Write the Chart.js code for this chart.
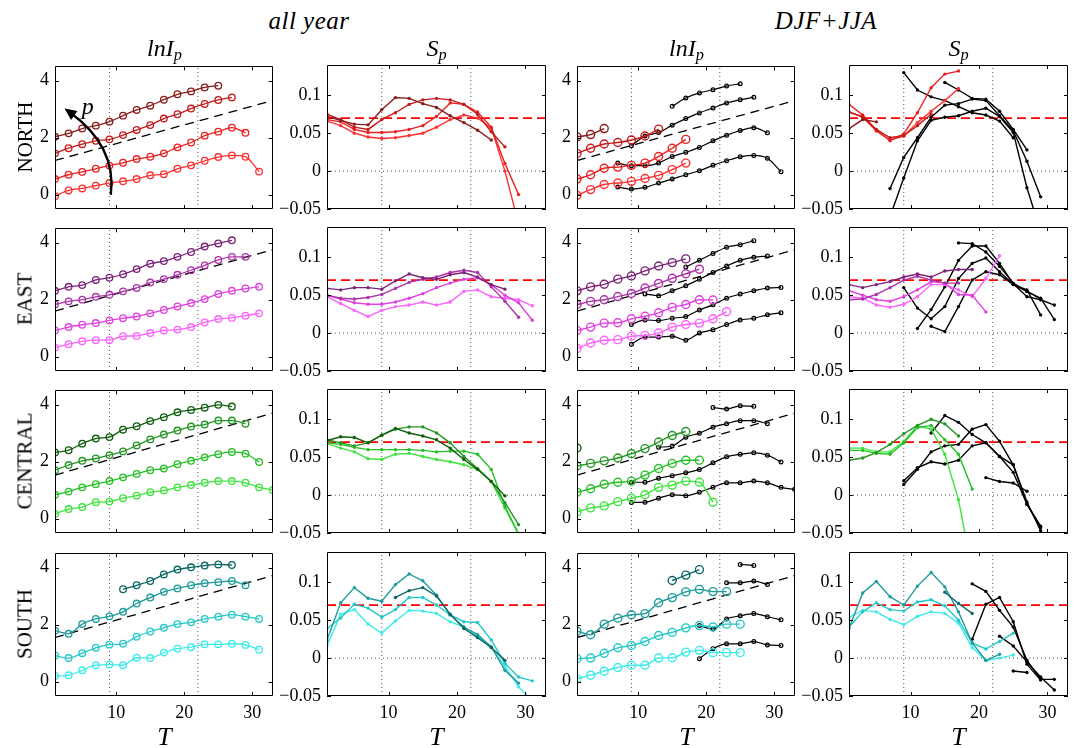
<!DOCTYPE html>
<html>
<head>
<meta charset="utf-8">
<script src="https://cdn.jsdelivr.net/npm/chart.js@4.4.1/dist/chart.umd.min.js"></script>
<style>
  html, body { margin: 0; padding: 0; background: #fff; }
  #fig { position: relative; width: 1076px; height: 748px; overflow: hidden;
         font-family: 'Liberation Serif', 'Times New Roman', serif; color: #000; }
  #fig canvas { position: absolute; }
  .lbl { position: absolute; white-space: nowrap; line-height: 1; }
  .sub { font-size: 68%; vertical-align: -0.25em; }
</style>
</head>
<body>
<div id="fig"></div>
<script>
// temperature bins (T, deg C), every 2 degrees starting at the given T
const dT = 2;
const T0 = 1, T1 = 33;
const xTicks = [10, 20, 30];
const refT = [9, 22];
const lnRange = [-0.5, 4.5], lnTicks = [0, 2, 4];
const spRange = [-0.05, 0.14], spTicks = [-0.05, 0, 0.05, 0.1];
const spRef = 0.07;

const rowNames = ['NORTH', 'EAST', 'CENTRAL', 'SOUTH'];
const nCol = ['#8a1c1c', '#c41a1a', '#ea2020', '#ff3030'];
const eCol = ['#7c2279', '#ac34a8', '#e040e0', '#ff60ff'];
const cCol = ['#0f5f0f', '#249624', '#26c026', '#3ee43e'];
const sCol = ['#0c6666', '#1e9c9c', '#24c8c8', '#3ceaea'];

// series are [first T, values]
// ---- NORTH
const nLnAll = [
  [1, [2.03, 2.15, 2.32, 2.42, 2.56, 2.77, 2.97, 3.12, 3.33, 3.52, 3.62, 3.76, 3.82]],
  [1, [1.45, 1.63, 1.77, 1.89, 1.94, 2.09, 2.27, 2.44, 2.67, 2.82, 3.02, 3.18, 3.32, 3.41]],
  [1, [0.55, 0.70, 0.80, 0.91, 1.02, 1.12, 1.25, 1.33, 1.45, 1.66, 1.83, 2.07, 2.21, 2.35, 2.17]],
  [1, [-0.05, 0.15, 0.22, 0.32, 0.41, 0.47, 0.55, 0.68, 0.72, 0.91, 1.03, 1.19, 1.32, 1.38, 1.33, 0.81]]
];
const nSpAll = [
  [1, [0.072, 0.067, 0.062, 0.061, 0.081, 0.097, 0.096, 0.089, 0.084, 0.073, 0.064, 0.054, 0.041]],
  [1, [0.075, 0.068, 0.058, 0.055, 0.068, 0.077, 0.088, 0.094, 0.096, 0.094, 0.088, 0.075, 0.052, 0.032]],
  [1, [0.068, 0.065, 0.055, 0.051, 0.051, 0.052, 0.055, 0.060, 0.072, 0.090, 0.088, 0.078, 0.058, 0.010, -0.031]],
  [1, [0.066, 0.060, 0.050, 0.045, 0.043, 0.044, 0.047, 0.050, 0.058, 0.068, 0.074, 0.070, 0.057, 0.000, -0.070]]
];
const nLnSea = [
  [1, [2.03, 2.11, 2.32]],
  [1, [1.45, 1.63, 1.78, 1.83, 1.92, 2.06, 2.30]],
  [1, [0.55, 0.70, 0.93, 0.97, 1.03, 1.11, 1.34, 1.63, 1.94]],
  [1, [-0.02, 0.18, 0.36, 0.41, 0.47, 0.57, 0.68, 0.88, 1.11]]
];
const nLnSeaK = [
  [15, [3.10, 3.39, 3.57, 3.68, 3.81, 3.89]],
  [9, [1.72, 2.06, 2.18, 2.44, 2.67, 2.87, 3.04, 3.22, 3.33, 3.42]],
  [7, [1.11, 1.02, 1.02, 1.11, 1.34, 1.49, 1.66, 1.89, 2.09, 2.25, 2.35, 2.17]],
  [7, [0.27, 0.20, 0.26, 0.41, 0.55, 0.70, 0.84, 1.03, 1.19, 1.33, 1.38, 1.28, 0.81]]
];
const nSpSea = [
  [1, [0.056, 0.068, 0.065]],
  [1, [0.078, 0.072, 0.055, 0.044, 0.047, 0.060, 0.075]],
  [1, [0.088, 0.074, 0.054, 0.040, 0.049, 0.077, 0.110, 0.128, 0.132]],
  [1, [0.078, 0.071, 0.053, 0.041, 0.046, 0.064, 0.079, 0.093, 0.109]]
];
const nSpSeaK = [
  [9, [0.130, 0.107, 0.098, 0.093, 0.085, 0.077, 0.074, 0.066, 0.044]],
  [15, [0.117, 0.107, 0.096, 0.095, 0.079, 0.055, 0.028]],
  [7, [-0.023, 0.018, 0.044, 0.071, 0.087, 0.089, 0.095, 0.093, 0.073, 0.053, 0.013, -0.034]],
  [7, [-0.060, -0.009, 0.040, 0.067, 0.071, 0.073, 0.079, 0.083, 0.072, 0.051, -0.022, -0.080]]
];
const nCC = [[1, 1.2], [33, 3.3]];

// ---- EAST
const eLnAll = [
  [1, [2.31, 2.45, 2.51, 2.69, 2.77, 2.89, 3.07, 3.26, 3.35, 3.50, 3.67, 3.86, 3.97, 4.08]],
  [1, [1.83, 1.94, 2.00, 2.10, 2.17, 2.29, 2.41, 2.60, 2.72, 2.87, 3.03, 3.20, 3.39, 3.50, 3.50]],
  [1, [0.92, 1.04, 1.12, 1.18, 1.27, 1.35, 1.41, 1.52, 1.64, 1.76, 1.88, 2.02, 2.20, 2.31, 2.39, 2.45]],
  [1, [0.32, 0.44, 0.54, 0.58, 0.58, 0.72, 0.73, 0.83, 0.92, 0.95, 1.04, 1.20, 1.32, 1.36, 1.44, 1.52]]
];
const eSpAll = [
  [1, [0.059, 0.057, 0.060, 0.060, 0.058, 0.069, 0.078, 0.073, 0.071, 0.077, 0.080, 0.074, 0.064, 0.058]],
  [1, [0.050, 0.046, 0.045, 0.047, 0.051, 0.059, 0.067, 0.071, 0.074, 0.080, 0.083, 0.080, 0.061, 0.042, 0.021]],
  [1, [0.050, 0.045, 0.040, 0.038, 0.038, 0.041, 0.046, 0.052, 0.060, 0.066, 0.071, 0.073, 0.064, 0.050, 0.040, 0.017]],
  [1, [0.048, 0.039, 0.030, 0.022, 0.030, 0.035, 0.037, 0.041, 0.037, 0.041, 0.055, 0.057, 0.048, 0.046, 0.044, 0.036]]
];
const eLnSea = [
  [1, [2.31, 2.45, 2.54, 2.72, 2.83, 3.01, 3.18, 3.30, 3.43]],
  [1, [1.83, 1.94, 2.00, 2.11, 2.22, 2.41, 2.57, 2.75, 2.91, 3.07]],
  [1, [0.92, 1.04, 1.18, 1.19, 1.33, 1.42, 1.54, 1.73, 1.83, 2.00, 1.99]],
  [1, [0.29, 0.48, 0.58, 0.60, 0.72, 0.75, 0.83, 1.04, 1.13, 1.18, 1.33, 1.58]]
];
const eLnSeaK = [
  [17, [3.15, 3.38, 3.62, 3.84, 3.93, 4.07]],
  [11, [2.20, 2.14, 2.31, 2.49, 2.72, 2.95, 3.18, 3.38, 3.49, 3.53]],
  [9, [1.13, 1.29, 1.27, 1.35, 1.41, 1.64, 1.82, 2.05, 2.20, 2.31, 2.41, 2.43]],
  [9, [0.44, 0.69, 0.69, 0.72, 0.58, 0.83, 0.95, 1.13, 1.29, 1.35, 1.47, 1.54]]
];
const eSpSea = [
  [1, [0.064, 0.060, 0.064, 0.068, 0.074, 0.078, 0.074, 0.082, 0.084, 0.084]],
  [1, [0.044, 0.045, 0.051, 0.060, 0.070, 0.075, 0.070, 0.066, 0.066]],
  [1, [0.056, 0.050, 0.044, 0.042, 0.048, 0.057, 0.068, 0.066, 0.051, 0.050, 0.028]],
  [1, [0.048, 0.046, 0.037, 0.034, 0.038, 0.048, 0.064, 0.064, 0.057, 0.048, 0.072, 0.102]]
];
const eSpSeaK = [
  [9, [0.060, 0.033, 0.019, 0.035, 0.072, 0.092, 0.099, 0.081, 0.064, 0.057, 0.024]],
  [11, [0.006, 0.031, 0.061, 0.096, 0.115, 0.115, 0.092, 0.065, 0.048, 0.044, 0.037]],
  [17, [0.119, 0.118, 0.107, 0.088, 0.066, 0.055, 0.046, 0.018]],
  [13, [0.009, 0.002, 0.035, 0.070, 0.081, 0.077, 0.064, 0.055, 0.045]]
];
const eCC = [[1, 1.6], [33, 3.75]];

// ---- CENTRAL
const cLnAll = [
  [1, [2.32, 2.40, 2.63, 2.81, 2.86, 3.12, 3.24, 3.42, 3.56, 3.73, 3.81, 3.89, 3.99, 3.93]],
  [1, [1.70, 1.88, 2.03, 2.11, 2.23, 2.36, 2.57, 2.78, 2.95, 3.09, 3.23, 3.30, 3.44, 3.44, 3.33]],
  [1, [0.84, 0.95, 1.10, 1.21, 1.32, 1.45, 1.57, 1.70, 1.76, 1.91, 2.03, 2.15, 2.26, 2.34, 2.28, 1.99]],
  [1, [0.17, 0.34, 0.41, 0.58, 0.60, 0.72, 0.81, 0.93, 0.99, 1.10, 1.18, 1.26, 1.32, 1.32, 1.26, 1.10, 1.01]]
];
const cSpAll = [
  [1, [0.072, 0.077, 0.076, 0.069, 0.079, 0.088, 0.082, 0.078, 0.073, 0.062, 0.047, 0.034, 0.018, -0.001]],
  [1, [0.073, 0.069, 0.065, 0.069, 0.079, 0.087, 0.090, 0.090, 0.082, 0.069, 0.051, 0.035, 0.018, -0.010, -0.039]],
  [1, [0.069, 0.067, 0.063, 0.060, 0.060, 0.060, 0.060, 0.059, 0.057, 0.058, 0.058, 0.054, 0.034, -0.015, -0.051]],
  [1, [0.068, 0.062, 0.057, 0.048, 0.047, 0.054, 0.055, 0.051, 0.047, 0.044, 0.040, 0.034, 0.018, -0.017, -0.052]]
];
const cLnSea = [
  [1, [2.48]],
  [1, [1.85, 1.94, 2.03, 2.13, 2.28, 2.46, 2.69, 2.92, 3.06]],
  [1, [0.93, 1.05, 1.21, 1.28, 1.32, 1.53, 1.76, 1.94, 2.05, 2.05]],
  [1, [0.24, 0.38, 0.45, 0.60, 0.72, 0.84, 1.10, 1.18, 1.32, 1.28, 0.58]]
];
const cLnSeaK = [
  [21, [3.90, 3.85, 3.96, 3.94]],
  [13, [2.51, 2.55, 2.86, 3.00, 3.21, 3.33, 3.44, 3.44, 3.33]],
  [9, [1.28, 1.28, 1.42, 1.51, 1.61, 1.73, 1.96, 2.17, 2.26, 2.31, 2.23, 1.99]],
  [9, [0.57, 0.58, 0.72, 0.84, 0.81, 0.93, 1.10, 1.26, 1.26, 1.32, 1.26, 1.10, 1.03]]
];
const cSpSea = [
  null,
  [1, [0.046, 0.049, 0.056, 0.067, 0.081, 0.092, 0.100, 0.094, 0.078]],
  [1, [0.059, 0.059, 0.055, 0.054, 0.069, 0.089, 0.092, 0.073, 0.054, 0.008]],
  [1, [0.062, 0.062, 0.057, 0.057, 0.071, 0.091, 0.087, 0.054, -0.006, -0.100]]
];
const cSpSeaK = [
  [9, [0.014, 0.034, 0.057, 0.065, 0.067, 0.087, 0.093, 0.071, 0.040, -0.012, -0.041]],
  [9, [0.019, 0.036, 0.044, 0.041, 0.046, 0.065, 0.069, 0.051, 0.030, -0.012, -0.043]],
  [13, [0.082, 0.105, 0.096, 0.080, 0.069, 0.051, 0.040, -0.009, -0.047]],
  [21, [0.023, 0.018, 0.016, 0.005]]
];
const cCC = [[1, 1.53], [33, 3.7]];

// ---- SOUTH
const sLnAll = [
  [11, [3.24, 3.38, 3.53, 3.76, 3.93, 4.01, 4.07, 4.11, 4.09]],
  [1, [1.79, 1.68, 2.02, 2.20, 2.29, 2.45, 2.74, 2.95, 3.15, 3.27, 3.38, 3.45, 3.49, 3.53, 3.38]],
  [1, [0.92, 0.83, 1.00, 1.19, 1.30, 1.33, 1.58, 1.76, 1.89, 2.02, 2.08, 2.20, 2.28, 2.35, 2.28, 2.20]],
  [1, [0.20, 0.23, 0.40, 0.58, 0.60, 0.58, 0.84, 0.83, 1.02, 1.16, 1.21, 1.31, 1.31, 1.33, 1.29, 1.12]]
];
const sSpAll = [
  [11, [0.080, 0.089, 0.093, 0.082, 0.058, 0.039, 0.027, 0.014, -0.003]],
  [1, [0.024, 0.073, 0.093, 0.079, 0.075, 0.097, 0.111, 0.102, 0.083, 0.057, 0.041, 0.031, 0.015, -0.016, -0.033]],
  [1, [0.039, 0.053, 0.071, 0.066, 0.054, 0.064, 0.080, 0.080, 0.070, 0.057, 0.048, 0.047, 0.024, -0.007, -0.025, -0.030]],
  [1, [0.016, 0.058, 0.064, 0.045, 0.033, 0.049, 0.063, 0.062, 0.059, 0.048, 0.041, 0.028, 0.014, -0.011, -0.038, -0.056]]
];
const sLnSea = [
  [15, [3.55, 3.74, 3.93]],
  [1, [1.77, 1.65, 2.02, 2.23, 2.35, 2.39, 2.77, 2.95, 3.15, 3.24, 3.16, 3.16]],
  [1, [0.81, 0.83, 1.00, 1.19, 1.27, 1.41, 1.62, 1.73, 1.89, 1.97, 1.92, 2.02, 2.02]],
  [1, [0.11, 0.23, 0.37, 0.50, 0.58, 0.58, 0.83, 0.84, 1.04, 1.10, 1.02, 1.02, 1.02]]
];
const sLnSeaK = [
  [25, [4.11, 4.08]],
  [23, [3.47, 3.47, 3.53, 3.41]],
  [19, [1.97, 1.85, 2.20, 2.31, 2.39, 2.28, 2.17]],
  [19, [0.81, 1.16, 1.33, 1.33, 1.41, 1.29, 1.27]]
];
const sSpSea = [
  [15, [0.087, 0.072, 0.059]],
  [1, [0.039, 0.086, 0.101, 0.081, 0.070, 0.095, 0.113, 0.094, 0.061, 0.020, -0.003, 0.005]],
  [1, [0.041, 0.061, 0.073, 0.064, 0.062, 0.074, 0.077, 0.069, 0.050, 0.020, 0.012, 0.022, 0.033]],
  [1, [0.054, 0.063, 0.061, 0.051, 0.044, 0.055, 0.061, 0.059, 0.046, 0.014, -0.003, 0.000, 0.004]]
];
const sSpSeaK = [
  [19, [0.098, 0.088, 0.063, 0.041, -0.003, -0.028, -0.028]],
  [19, [0.025, 0.071, 0.080, 0.048, -0.008, -0.029]],
  [23, [0.029, 0.016, -0.005, -0.025, -0.042]],
  [25, [-0.017, -0.019]]
];
const sCC = [[1, 1.55], [33, 3.72]];

// curved "p" arrow in the NORTH / all year panel: start, control, tip (T, lnIp)
const arrowT = [9.2, 10.1, 2.4];
const arrowV = [0.0, 1.7, 3.02];
const arrowLabel = [5.8, 3.12];

const rows = [
  { col: nCol, lnAll: nLnAll, spAll: nSpAll, lnSea: nLnSea, lnSeaK: nLnSeaK, spSea: nSpSea, spSeaK: nSpSeaK, cc: nCC },
  { col: eCol, lnAll: eLnAll, spAll: eSpAll, lnSea: eLnSea, lnSeaK: eLnSeaK, spSea: eSpSea, spSeaK: eSpSeaK, cc: eCC },
  { col: cCol, lnAll: cLnAll, spAll: cSpAll, lnSea: cLnSea, lnSeaK: cLnSeaK, spSea: cSpSea, spSeaK: cSpSeaK, cc: cCC },
  { col: sCol, lnAll: sLnAll, spAll: sSpAll, lnSea: sLnSea, lnSeaK: sLnSeaK, spSea: sSpSea, spSeaK: sSpSeaK, cc: sCC }
];

// ---------------------------------------------------------------- layout
const fig = document.getElementById('fig');
const tickFont = { family: 'Liberation Serif, Times New Roman, serif', size: 18 };

const colLeft = [55, 327, 577, 849];
const rowTop = [65, 227, 389, 552];
const boxW = 219, boxH = 144;
const PADL = 52, PADR = 4, PADT = 4, PADB = 30;

const pts = s => s[1].map((v, i) => ({ x: s[0] + dT * i, y: v }));

function circles(s, color, r, w) {
  return {
    data: pts(s), borderColor: color, borderWidth: w,
    pointRadius: r, pointBorderWidth: w, pointBorderColor: color,
    pointBackgroundColor: 'rgba(0,0,0,0)', cubicInterpolationMode: 'monotone'
  };
}
function dots(s, color) {
  return {
    data: pts(s), borderColor: color, borderWidth: 1.4,
    pointRadius: 1.7, pointBorderWidth: 0, pointBackgroundColor: color, tension: 0
  };
}
function refLine(a, b, color, dash, w) {
  return {
    data: [{ x: a[0], y: a[1] }, { x: b[0], y: b[1] }],
    borderColor: color, borderWidth: w, borderDash: dash, pointRadius: 0
  };
}
const fmt = v => v === 0 ? '0' : (v < 0 ? '\u2212' : '') + String(Math.abs(v));

const framePlugin = {
  id: 'frame',
  afterDatasetsDraw(chart) {
    const { ctx, chartArea: a, scales: { x, y } } = chart;
    ctx.save();
    ctx.strokeStyle = '#000';
    ctx.lineWidth = 1;
    ctx.beginPath();
    ctx.rect(Math.round(a.left) + 0.5, Math.round(a.top) + 0.5, Math.round(a.width) - 1, Math.round(a.height) - 1);
    for (const t of xTicks) {
      const px = Math.round(x.getPixelForValue(t)) + 0.5;
      ctx.moveTo(px, a.top); ctx.lineTo(px, a.top + 4);
      ctx.moveTo(px, a.bottom); ctx.lineTo(px, a.bottom - 4);
    }
    for (const tk of y.ticks) {
      const py = Math.round(y.getPixelForValue(tk.value)) + 0.5;
      ctx.moveTo(a.left, py); ctx.lineTo(a.left + 4, py);
      ctx.moveTo(a.right, py); ctx.lineTo(a.right - 4, py);
    }
    ctx.stroke();
    ctx.restore();
  }
};

const arrowPlugin = {
  id: 'pArrow',
  afterDatasetsDraw(chart) {
    const { ctx, scales: { x, y } } = chart;
    const [sx, cx, ex] = arrowT.map(v => x.getPixelForValue(v));
    const [sy, cy, ey] = arrowV.map(v => y.getPixelForValue(v));
    const ang = Math.atan2(ey - cy, ex - cx);
    const L = 12, hw = 5.5;
    ctx.save();
    ctx.strokeStyle = '#000';
    ctx.fillStyle = '#000';
    ctx.lineWidth = 2.4;
    ctx.beginPath();
    ctx.moveTo(sx, sy);
    ctx.quadraticCurveTo(cx, cy, ex - 6 * Math.cos(ang), ey - 6 * Math.sin(ang));
    ctx.stroke();
    ctx.beginPath();
    ctx.moveTo(ex, ey);
    ctx.lineTo(ex - L * Math.cos(ang) + hw * Math.sin(ang), ey - L * Math.sin(ang) - hw * Math.cos(ang));
    ctx.lineTo(ex - L * Math.cos(ang) - hw * Math.sin(ang), ey - L * Math.sin(ang) + hw * Math.cos(ang));
    ctx.closePath();
    ctx.fill();
    ctx.restore();
  }
};

function panel(r, c, sets, isLn, cc, extra) {
  const cv = document.createElement('canvas');
  const w = boxW + PADL + PADR, h = boxH + PADT + PADB;
  cv.width = w; cv.height = h;
  cv.style.left = (colLeft[c] - PADL) + 'px';
  cv.style.top = (rowTop[r] - PADT) + 'px';
  cv.style.width = w + 'px';
  cv.style.height = h + 'px';
  fig.appendChild(cv);

  const yr = isLn ? lnRange : spRange;
  const yt = isLn ? lnTicks : spTicks;
  const refs = [];
  if (isLn) {
    refs.push(refLine(cc[0], cc[1], '#000', [9, 6], 1.3));
  } else {
    refs.push(refLine([T0, spRef], [T1, spRef], '#ff0000', [9, 5], 1.8));
    refs.push(refLine([T0, 0], [T1, 0], '#555', [1, 3], 1));
  }
  refT.forEach(t => refs.push(refLine([t, yr[0]], [t, yr[1]], '#555', [1, 3], 1)));

  return new Chart(cv, {
    type: 'line',
    data: { datasets: sets.concat(refs) },
    options: {
      responsive: false,
      animation: false,
      devicePixelRatio: 1,
      events: [],
      layout: { padding: { left: 0, right: PADR, top: PADT, bottom: 0 } },
      plugins: { legend: { display: false }, tooltip: { enabled: false } },
      scales: {
        x: {
          type: 'linear', min: T0, max: T1,
          grid: { display: false, drawTicks: false }, border: { display: false },
          ticks: { display: r === 3, padding: 6, maxRotation: 0, autoSkip: false, font: tickFont, color: '#000' },
          afterBuildTicks: s => { s.ticks = xTicks.map(v => ({ value: v })); },
          afterFit: s => { s.height = PADB; s.paddingLeft = 0; s.paddingRight = 0; }
        },
        y: {
          type: 'linear', min: yr[0], max: yr[1],
          grid: { display: false, drawTicks: false }, border: { display: false },
          ticks: { padding: 6, autoSkip: false, font: tickFont, color: '#000', callback: v => fmt(v) },
          afterBuildTicks: s => { s.ticks = yt.map(v => ({ value: v })); },
          afterFit: s => { s.width = PADL; s.paddingTop = 0; s.paddingBottom = 0; }
        }
      }
    },
    plugins: [framePlugin].concat(extra || [])
  });
}

function addText(html, cx, cy, size, italic, rot, spacing) {
  const d = document.createElement('div');
  d.className = 'lbl';
  d.innerHTML = html;
  d.style.fontSize = size + 'px';
  if (italic) d.style.fontStyle = 'italic';
  if (spacing) d.style.letterSpacing = spacing + 'px';
  d.style.left = cx + 'px';
  d.style.top = cy + 'px';
  d.style.transform = 'translate(-50%,-50%)' + (rot ? ' rotate(-90deg)' : '');
  fig.appendChild(d);
}

rows.forEach((row, r) => {
  const lnAll = row.lnAll.map((s, i) => circles(s, row.col[i], 3.3, 1.3));
  const spAll = row.spAll.map((s, i) => dots(s, row.col[i]));
  const lnSea = row.lnSea.map((s, i) => circles(s, row.col[i], 4, 1.4))
    .concat(row.lnSeaK.map(s => circles(s, '#000', 1.9, 1.2)));
  const spSea = row.spSea.map((s, i) => s ? dots(s, row.col[i]) : null).filter(Boolean)
    .concat(row.spSeaK.map(s => dots(s, '#000')));

  const ch = panel(r, 0, lnAll, true, row.cc, r === 0 ? [arrowPlugin] : []);
  panel(r, 1, spAll, false);
  panel(r, 2, lnSea, true, row.cc);
  panel(r, 3, spSea, false);

  if (r === 0) {
    const px = ch.scales.x.getPixelForValue(arrowLabel[0]) + colLeft[0] - PADL;
    const py = ch.scales.y.getPixelForValue(arrowLabel[1]) + rowTop[0] - PADT;
    addText('p', px, py, 24, true);
  }
  addText(rowNames[r], 25, rowTop[r] + boxH / 2, 21, false, true);
});

// headings
addText('all year', 309, 20, 25, true, false, 0.5);
addText('DJF+JJA', 826, 20, 25, true, false, 0.5);
const sub = ['lnI<span class="sub">p</span>', 'S<span class="sub">p</span>'];
for (let c = 0; c < 4; c++) {
  addText(sub[c % 2], colLeft[c] + boxW / 2, 50, 24, true);
  addText('T', colLeft[c] + boxW / 2, 737, 26, true);
}
</script>
</body>
</html>
